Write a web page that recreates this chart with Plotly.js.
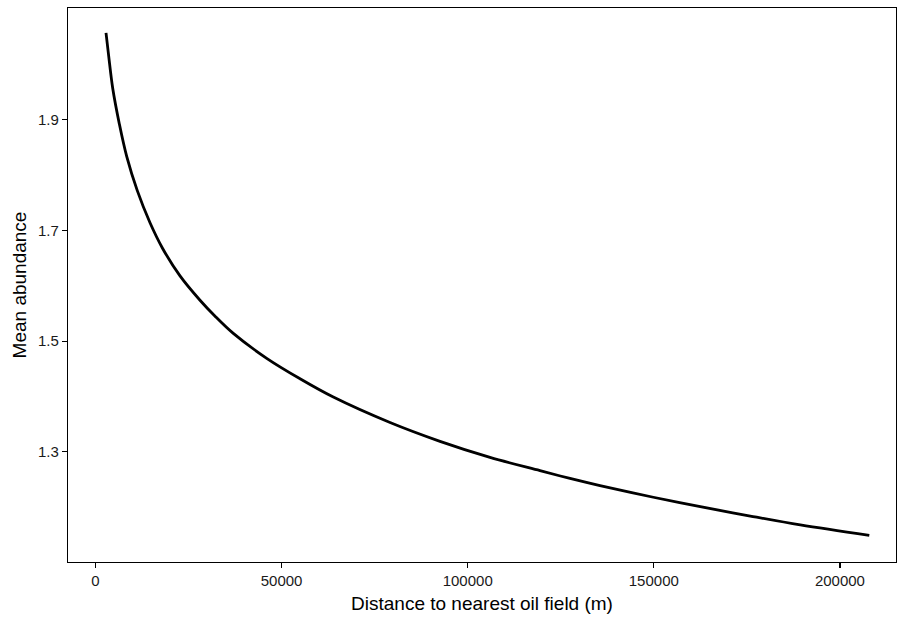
<!DOCTYPE html>
<html>
<head>
<meta charset="utf-8">
<script src="https://cdn.plot.ly/plotly-3.0.1.min.js"></script>
<style>html,body{margin:0;padding:0;background:#fff;}#chart{width:897px;height:619px;}</style>
</head>
<body>
<div id="chart"></div>
<script>
// Distance to nearest oil field (m)
const distance = [2821, 3546, 4621, 6394, 8382, 11230, 14643, 18000, 22703, 28076, 32000, 37023, 45996, 54970, 63890, 79124, 92557, 105990, 119423, 127483, 135543, 149864, 162490, 175924, 189357, 207895];
// Mean abundance
const abundance = [2.057, 2.015, 1.957, 1.893, 1.834, 1.772, 1.714, 1.668, 1.618, 1.574, 1.546, 1.514, 1.469, 1.432, 1.399, 1.353, 1.319, 1.290, 1.266, 1.252, 1.239, 1.218, 1.201, 1.184, 1.168, 1.149];
const xTicks = [0, 50000, 100000, 150000, 200000];
const xTickText = ["0", "50000", "100000", "150000", "200000"];
const yTicks = [1.3, 1.5, 1.7, 1.9];
const yTickText = ["1.3", "1.5", "1.7", "1.9"];

const trace = {
  x: distance, y: abundance, type: 'scatter', mode: 'lines',
  line: {color: '#000', width: 2.8, shape: 'spline', smoothing: 1},
  hoverinfo: 'skip'
};
const fam = 'Liberation Sans, Arial, sans-serif';
const layout = {
  width: 897, height: 619,
  margin: {l: 68, r: 1, t: 8, b: 57},
  paper_bgcolor: '#fff', plot_bgcolor: '#fff',
  showlegend: false,
  font: {family: fam, color: '#1a1a1a'},
  xaxis: {
    range: [-7390, 215070], tickvals: xTicks, ticktext: xTickText,
    showgrid: false, zeroline: false, showline: true, linecolor: '#000', linewidth: 1.2, mirror: true,
    ticks: 'outside', ticklen: 5, tickcolor: '#000', tickwidth: 1.2,
    tickfont: {size: 15, family: fam, color: '#1a1a1a'},
    title: {text: 'Distance to nearest oil field (m)', font: {size: 19, family: fam, color: '#000'}, standoff: 8}
  },
  yaxis: {
    range: [1.101, 2.102], tickvals: yTicks, ticktext: yTickText,
    showgrid: false, zeroline: false, showline: true, linecolor: '#000', linewidth: 1.2, mirror: true,
    ticks: 'outside', ticklen: 5, tickcolor: '#000', tickwidth: 1.2,
    tickfont: {size: 15, family: fam, color: '#1a1a1a'},
    title: {text: 'Mean abundance', font: {size: 19, family: fam, color: '#000'}, standoff: 6}
  }
};
Plotly.newPlot('chart', [trace], layout, {staticPlot: true, displayModeBar: false});
</script>
</body>
</html>
